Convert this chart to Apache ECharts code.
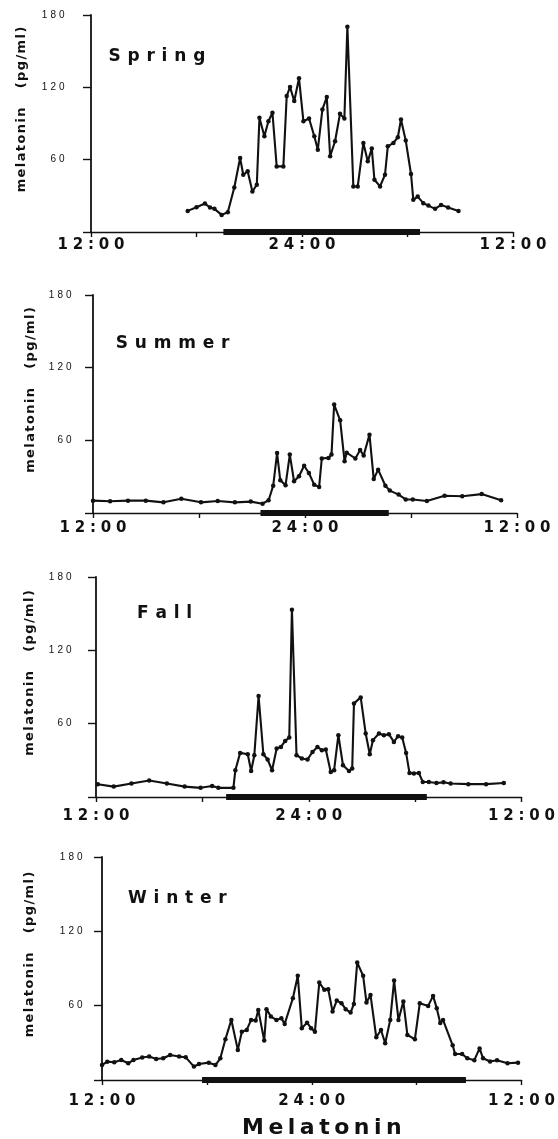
<!DOCTYPE html>
<html>
<head>
<meta charset="utf-8">
<script src="https://cdn.jsdelivr.net/npm/echarts@6/dist/echarts.min.js"></script>
<style>
  html, body { margin: 0; padding: 0; background: #fff; }
  #chart { width: 558px; height: 1139px; }
</style>
</head>
<body>
<div id="chart"></div>
<script>
// x = hours after 12:00 noon, y = melatonin (pg/ml)
const springHours = [5.5, 6.0, 6.48, 6.77, 7.02, 7.43, 7.78, 8.15, 8.48, 8.66, 8.91, 9.18, 9.43, 9.58, 9.86, 10.09, 10.32, 10.56, 10.94, 11.13, 11.32, 11.56, 11.83, 12.08, 12.4, 12.7, 12.9, 13.16, 13.41, 13.6, 13.88, 14.16, 14.41, 14.58, 14.92, 15.17, 15.49, 15.74, 15.97, 16.12, 16.44, 16.72, 16.88, 17.2, 17.45, 17.63, 17.9, 18.2, 18.33, 18.58, 18.9, 19.19, 19.57, 19.91, 20.31, 20.9];
const springValues = [17.5, 20.5, 23.6, 20.3, 19.2, 14.2, 16.4, 36.9, 61.4, 47.5, 50.3, 33.6, 39.2, 94.7, 79.4, 91.9, 98.9, 54.4, 54.4, 112.8, 120.3, 108.6, 127.5, 91.9, 94.2, 79.4, 68.3, 101.7, 111.9, 62.8, 75.3, 98, 94.2, 170.3, 37.8, 37.8, 73.9, 58.6, 69.2, 43.3, 37.8, 47.5, 71.1, 73.9, 78.6, 93.3, 75.8, 48.1, 26.7, 29.4, 23.9, 21.9, 19.2, 22.5, 20.3, 17.5];

const summerHours = [0, 0.97, 1.98, 2.99, 3.99, 5.0, 6.11, 7.06, 8.03, 8.93, 9.6, 9.94, 10.2, 10.42, 10.6, 10.9, 11.14, 11.38, 11.66, 11.95, 12.22, 12.52, 12.8, 12.95, 13.33, 13.5, 13.65, 13.99, 14.24, 14.36, 14.85, 15.12, 15.32, 15.65, 15.89, 16.14, 16.55, 16.8, 17.3, 17.7, 18.1, 18.9, 19.9, 20.9, 22.0, 23.1];
const summerValues = [10.2, 9.7, 10.2, 10.2, 8.8, 11.8, 8.8, 9.9, 8.8, 9.4, 7.7, 10.5, 22.5, 49.5, 27, 23, 48.2, 26.2, 30.3, 39, 33, 23.4, 21.5, 45, 45.5, 48.2, 89.5, 76.5, 42.7, 49.8, 45, 52, 47.5, 64.7, 28, 35.8, 22.5, 18.5, 15.2, 11.2, 11.1, 9.9, 14.3, 13.8, 15.6, 10.5];

const fallHours = [0.1, 1.0, 2.0, 3.0, 4.0, 5.0, 5.9, 6.55, 6.9, 7.75, 7.86, 8.13, 8.56, 8.75, 8.93, 9.17, 9.44, 9.68, 9.93, 10.19, 10.43, 10.67, 10.9, 11.05, 11.31, 11.61, 11.93, 12.21, 12.49, 12.74, 12.96, 13.24, 13.43, 13.67, 13.93, 14.27, 14.45, 14.55, 14.93, 15.21, 15.44, 15.62, 15.96, 16.24, 16.52, 16.8, 17.04, 17.27, 17.49, 17.68, 17.93, 18.21, 18.43, 18.77, 19.2, 19.6, 20.0, 21.0, 22.0, 23.0];
const fallValues = [10.5, 8.5, 11, 13.5, 11, 8.5, 7.5, 9, 7.5, 7.5, 21.9, 36.1, 35, 21.3, 34.2, 82.6, 35, 30.7, 21.9, 39.7, 41, 45.9, 48.7, 153.2, 34.2, 31.5, 30.7, 36.9, 41, 38.3, 38.9, 20.5, 21.9, 50.6, 26, 21.3, 23.3, 76.6, 81.5, 52, 35, 46.5, 52, 50.6, 51.4, 45.1, 49.8, 48.7, 36.1, 19.7, 19.2, 19.7, 12.3, 12.3, 11.5, 12, 11, 10.5, 10.5, 11.5];

const winterHours = [0, 0.3, 0.7, 1.1, 1.5, 1.8, 2.3, 2.7, 3.1, 3.5, 3.9, 4.41, 4.79, 5.26, 5.55, 6.11, 6.49, 6.77, 7.06, 7.4, 7.77, 8.0, 8.28, 8.53, 8.79, 8.94, 9.28, 9.41, 9.66, 9.98, 10.26, 10.45, 10.92, 11.2, 11.43, 11.73, 11.96, 12.18, 12.43, 12.72, 12.94, 13.19, 13.43, 13.7, 13.94, 14.22, 14.41, 14.6, 14.94, 15.13, 15.36, 15.69, 15.96, 16.2, 16.49, 16.71, 16.96, 17.24, 17.47, 17.9, 18.18, 18.66, 18.94, 19.15, 19.35, 19.51, 20.06, 20.2, 20.6, 20.9, 21.3, 21.6, 21.8, 22.2, 22.6, 23.2, 23.8];
const winterValues = [12.1, 14.8, 14.3, 16.2, 13.5, 16.2, 18.1, 18.9, 17, 17.5, 20.2, 18.9, 18.3, 10.8, 12.9, 14, 12.1, 17.5, 32.9, 48.5, 24.3, 39, 40.4, 48.5, 48, 56.6, 31.8, 57.2, 51.2, 48.5, 49.9, 45.3, 66, 84.1, 41.8, 46.3, 41.8, 39, 78.7, 72.8, 73.3, 55.2, 64.1, 62, 57.2, 54.4, 61.4, 94.8, 84.1, 62.5, 68.7, 34.5, 40.4, 29.7, 48.5, 80.3, 48.5, 63.3, 36.4, 32.9, 62, 59.8, 67.9, 58, 46, 48.5, 28, 21, 21, 17.5, 16, 25.5, 17.5, 15, 16, 13.5, 14];

const seasons = ['Spring', 'Summer', 'Fall', 'Winter'];
const seasonHours = [springHours, summerHours, fallHours, winterHours];
const seasonValues = [springValues, summerValues, fallValues, winterValues];
// dark bar along the time axis (hours after noon)
const darkStart = [7.53, 9.48, 7.34, 5.72];
const darkEnd = [18.71, 16.74, 18.66, 20.82];

const tickHours = [0, 6, 12, 18, 24];
const tickLabels = ['12:00', '', '24:00', '', '12:00'];
const yName = 'melatonin   (pg/ml)';
const xTitle = 'Melatonin';

// layout
const gridBoxes = [[91, 15, 422, 217], [93, 295, 424, 218], [96, 577, 427, 220], [102, 857, 424, 223]];
const titlePos = [[105, 48], [112.3, 335], [133.6, 605], [124.6, 890]];
const nameGaps = [63, 56, 60, 66];
const yLabelMargins = [25, 20, 23, 18];
const xLabelMargins = [6, 7.5, 11.5, 14];

const INK = '#111';
const BOLD = 'DejaVu Sans';

// letter-spaced text: every character is its own rich token with side padding
function spaced(str, key) {
    return str.split('').map(ch => '{' + key + '|' + ch + '}').join('');
}

const rich = {
    xl: { fontFamily: BOLD, fontWeight: 'bold', fontSize: 15, color: INK, padding: [0, 2.4, 0, 2.4] },
    yl: { fontFamily: 'Liberation Sans', fontSize: 10, color: INK, padding: [0, 1.5, 0, 1.5] },
    nm: { fontFamily: BOLD, fontWeight: 'bold', fontSize: 13, color: INK, padding: [0, 0.7, 0, 0.7] },
    tt: { fontFamily: BOLD, fontWeight: 'bold', fontSize: 17, color: INK, padding: [0, 3.4, 0, 3.4] },
    big: { fontFamily: BOLD, fontWeight: 'bold', fontSize: 22, color: INK, padding: [0, 2.25, 0, 2.25] },
};

const chart = echarts.init(document.getElementById('chart'), null, { renderer: 'canvas' });

const grid = gridBoxes.map(b => ({ left: b[0], top: b[1], width: b[2], height: b[3], containLabel: false }));

const xAxis = seasons.map((s, i) => ({
    type: 'value',
    gridIndex: i,
    min: 0,
    max: 24,
    interval: 6,
    axisLine: { onZero: false, lineStyle: { color: INK, width: 1.4 } },
    axisTick: { inside: false, length: 5, lineStyle: { color: INK, width: 1.4 } },
    splitLine: { show: false },
    axisLabel: {
        showMinLabel: true,
        showMaxLabel: true,
        margin: xLabelMargins[i],
        rich,
        formatter: v => {
            const k = tickHours.indexOf(v);
            return k >= 0 && tickLabels[k] ? spaced(tickLabels[k], 'xl') : '';
        },
    },
}));

const yAxis = seasons.map((s, i) => ({
    type: 'value',
    gridIndex: i,
    min: 0,
    max: 180,
    interval: 60,
    name: spaced(yName, 'nm'),
    nameLocation: 'middle',
    nameGap: nameGaps[i],
    nameTextStyle: { rich, padding: [0, 0, 0, 28] },
    axisLine: { lineStyle: { color: INK, width: 1.8 } },
    axisTick: { inside: false, length: 8, lineStyle: { color: INK, width: 1.4 } },
    splitLine: { show: false },
    axisLabel: {
        margin: yLabelMargins[i],
        rich,
        formatter: v => (v === 0 ? '' : spaced(String(v), 'yl')),
    },
}));

const series = [];
seasons.forEach((s, i) => {
    series.push({
        name: s + ' dark',
        type: 'line',
        xAxisIndex: i,
        yAxisIndex: i,
        data: [[darkStart[i], 0], [darkEnd[i], 0]],
        symbol: 'none',
        clip: false,
        z: 3,
        lineStyle: { color: INK, width: 6, cap: 'butt' },
    });
    series.push({
        name: s,
        type: 'line',
        xAxisIndex: i,
        yAxisIndex: i,
        data: seasonHours[i].map((h, k) => [h, seasonValues[i][k]]),
        symbol: 'circle',
        symbolSize: 4.5,
        showSymbol: true,
        clip: false,
        z: 4,
        lineStyle: { color: INK, width: 2.1 },
        itemStyle: { color: INK },
    });
});

const title = seasons.map((s, i) => ({
    text: spaced(s, 'tt'),
    left: titlePos[i][0],
    top: titlePos[i][1],
    padding: 0,
    textStyle: { rich },
}));
title.push({
    text: spaced(xTitle, 'big'),
    left: 239.75,
    top: 1117,
    padding: 0,
    textStyle: { rich },
});

chart.setOption({
    animation: false,
    backgroundColor: '#fff',
    title,
    grid,
    xAxis,
    yAxis,
    series,
});
</script>
</body>
</html>
